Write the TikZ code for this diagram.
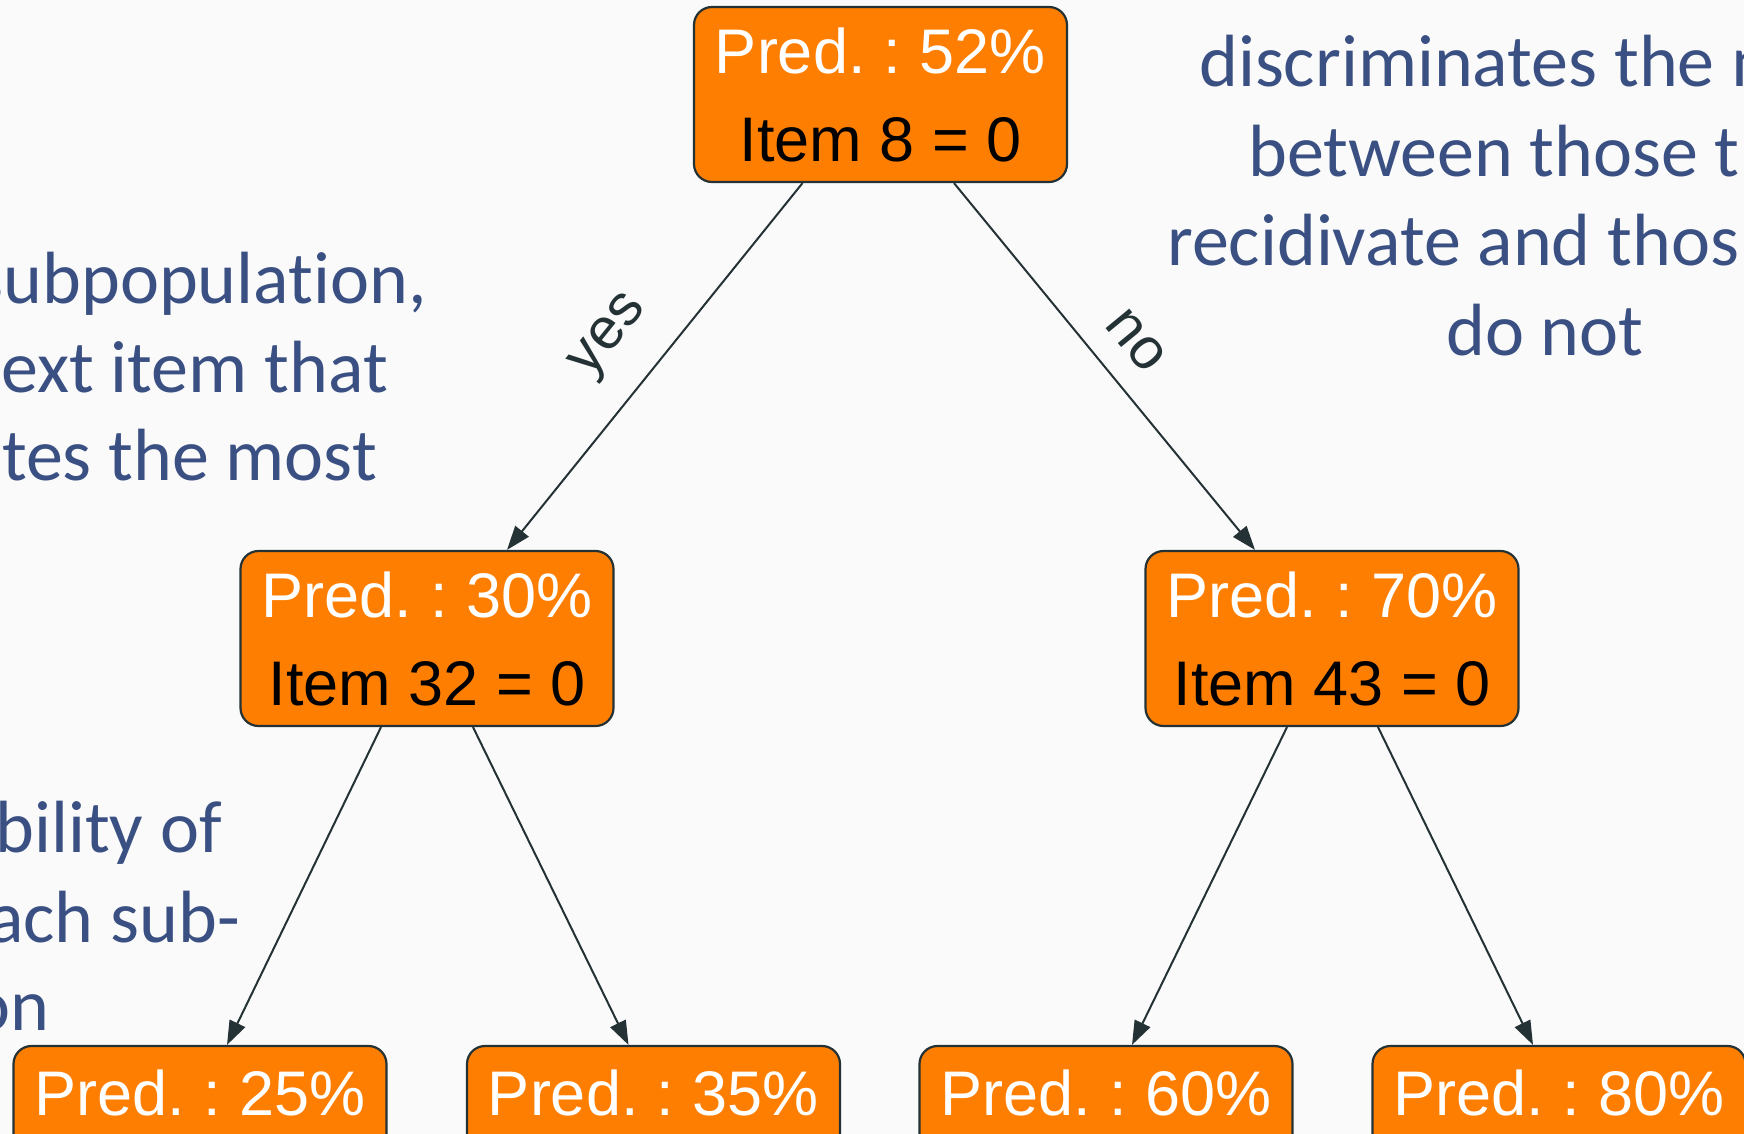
\documentclass[tikz,border=0pt]{standalone}
\usepackage{fontspec}
\setmainfont{Liberation Sans}
\newfontfamily\notefont[Ligatures=NoCommon]{Carlito}
\usetikzlibrary{arrows.meta,calc}
\definecolor{bgc}{RGB}{250,250,250}
\definecolor{orgc}{RGB}{254,126,2}
\definecolor{edgec}{RGB}{36,50,54}
\definecolor{bluc}{RGB}{58,80,131}
\newcommand\predline[1]{{\color{white}\spaceskip=0.2em plus 0pt minus 0pt\relax #1}}
\begin{document}
\begin{tikzpicture}[x=1pt,y=-1pt,
  tnode/.style={draw=edgec, line width=2.2pt, fill=orgc, rounded corners=18pt,
    minimum width=373pt, minimum height=175pt, inner sep=0pt, align=center,
    font=\fontsize{63}{88}\selectfont},
  leaf/.style={tnode, text height=46pt, text depth=83pt},
  conn/.style={draw=edgec, line width=2pt, -{Triangle[length=24pt,width=17pt]}},
  elabel/.style={text=edgec, font=\fontsize{58}{64}\selectfont, inner sep=0pt},
  note/.style={text=bluc, font=\notefont\fontsize{74}{88.5}\selectfont, inner sep=0pt}]
\useasboundingbox (0,0) rectangle (1744,1134);
\clip (0,0) rectangle (1744,1134);
\fill[bgc] (0,0) rectangle (1744,1134);

% notes
\node[note, anchor=base east] (n1) at (427,303) {subpopulation,};
\node[note, anchor=base east] (n2) at (388,392) {ext item that};
\node[note, anchor=base east] (n3) at (377,480) {tes the most};
\node[note, anchor=base east] (n4) at (222,852) {bility of};
\node[note, anchor=base east] (n5) at (240,942) {ach sub-};
\node[note, anchor=base east] (n6) at (50,1030) {on};
\node[note, anchor=base west] (r1) at (1199,87) {discriminates the m};
\node[note, anchor=base west] (r2) at (1248,177) {between those t};
\node[note, anchor=base west] (r3) at (1167,265) {recidivate and thos};
\node[note, anchor=base] (r4) at (1545,355) {do not};

% tree nodes
\node[tnode] (root) at (880.5,94.5) {\predline{Pred. : 52\%}\\Item 8 = 0};
\node[tnode] (ml) at (427,638.5) {\predline{Pred. : 30\%}\\Item 32 = 0};
\node[tnode] (mr) at (1332,638.5) {\predline{Pred. : 70\%}\\Item 43 = 0};
\node[leaf] (l1) at (200,1133.5) {\predline{Pred. : 25\%}};
\node[leaf] (l2) at (653.5,1133.5) {\predline{Pred. : 35\%}};
\node[leaf] (l3) at (1106,1133.5) {\predline{Pred. : 60\%}};
\node[leaf] (l4) at (1559,1133.5) {\predline{Pred. : 80\%}};

% connectors
\draw[conn] ($(root.south)+(-78,0)$) -- node[elabel, pos=0.51, sloped, above=30pt] (lyes) {yes} ($(ml.north)+(80,0)$);
\draw[conn] ($(root.south)+(73.5,0)$) -- node[elabel, pos=0.5, sloped, above=24pt] (lno) {no} ($(mr.north)+(-77,0)$);
\draw[conn] ($(ml.south)+(-46,0)$) -- ($(l1.north)+(27,0)$);
\draw[conn] ($(ml.south)+(46,0)$) -- ($(l2.north)+(-25,0)$);
\draw[conn] ($(mr.south)+(-45,0)$) -- ($(l3.north)+(26,0)$);
\draw[conn] ($(mr.south)+(46,0)$) -- ($(l4.north)+(-26,0)$);
\end{tikzpicture}
\end{document}
